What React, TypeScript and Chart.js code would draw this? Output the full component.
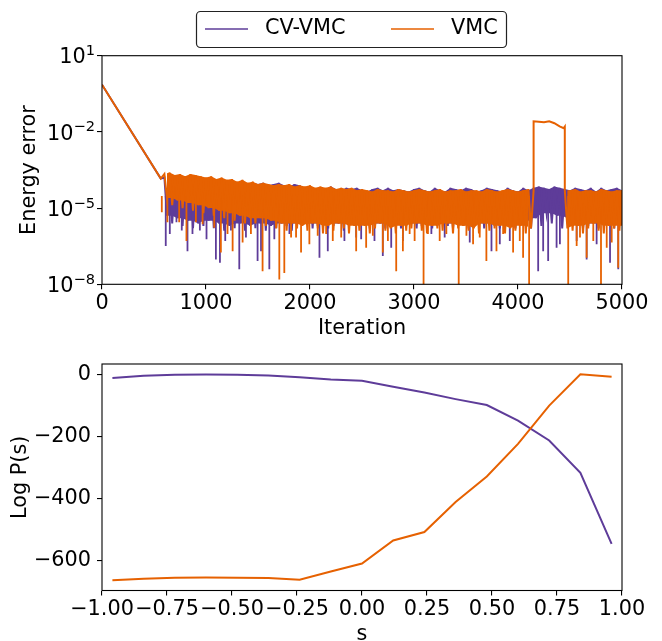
import React, { useEffect, useRef } from "react";
import { Chart, registerables } from "chart.js";

Chart.register(...registerables);

const FONT = "'DejaVu Sans', sans-serif";
const FS = 20.8;
const SUP_FS = 14.6;
const PURPLE = "#5e3c99";
const ORANGE = "#e66101";

// ---------- top panel data ----------
const seriesNames = ["CV-VMC", "VMC"];
const decayIter = [0, 565];
const cvDecay = [0.72, 1.45e-4];
const vmcDecay = [0.72, 1.45e-4];

// noisy phase: one window every 50 iterations starting at iteration 600;
// "hi" is the window maximum, "lo" the window minimum
const windowStart = 600;
const windowStep = 50;
const vmcHi = [
  2.2e-4, 2.5e-4, 2.0e-4, 2.2e-4, 1.8e-4, 2.2e-4, 2.0e-4,
  1.8e-4, 1.6e-4, 1.8e-4, 1.4e-4, 1.6e-4, 1.3e-4, 1.4e-4, 1.1e-4, 1.3e-4, 1.0e-4,
  1.1e-4, 8.9e-5, 1.0e-4, 8.9e-5, 7.9e-5, 8.9e-5, 7.9e-5, 8.9e-5, 7.1e-5, 7.9e-5,
  7.1e-5, 7.9e-5, 6.3e-5, 7.1e-5, 6.3e-5, 7.1e-5, 5.6e-5, 6.3e-5, 5.6e-5, 6.3e-5,
  5.0e-5, 5.6e-5, 5.0e-5, 4.5e-5, 5.6e-5, 5.0e-5, 5.0e-5, 4.5e-5, 5.6e-5, 5.0e-5,
  4.5e-5, 5.0e-5, 5.6e-5, 5.0e-5, 4.5e-5, 5.0e-5, 5.6e-5, 4.5e-5, 5.0e-5, 5.0e-5,
  5.6e-5, 4.5e-5, 5.0e-5, 5.0e-5, 4.5e-5, 5.6e-5, 5.0e-5, 4.5e-5, 5.0e-5, 5.6e-5,
  5.0e-5, 4.5e-5, 5.0e-5, 5.6e-5,
  null, null, null, null, null, null, 5.0e-5,
  5.0e-5, 5.6e-5, 4.5e-5, 5.0e-5, 5.0e-5, 4.5e-5, 5.6e-5, 5.0e-5, 4.5e-5, 5.0e-5, 5.0e-5,
];
const vmcLo = [
  2.5e-5, 1.3e-5, 2.0e-5, 1.0e-5, 1.6e-5, 7.9e-6, 1.3e-5,
  6.3e-6, 1.0e-5, 5.0e-6, 7.9e-6, 4.0e-6, 6.3e-6, 3.2e-6, 5.0e-6, 2.5e-6, 4.0e-6,
  2.5e-6, 4.0e-6, 2.0e-6, 3.2e-6, 1.6e-6, 2.5e-6, 1.3e-6, 2.5e-6, 1.6e-6, 2.0e-6,
  1.3e-6, 2.5e-6, 1.6e-6, 1.0e-6, 2.0e-6, 1.3e-6, 2.5e-6, 1.6e-6, 1.0e-6, 2.0e-6,
  1.3e-6, 2.0e-6, 1.0e-6, 1.6e-6, 2.5e-6, 1.3e-6, 1.6e-6, 1.0e-6, 2.0e-6, 1.3e-6,
  1.6e-6, 2.5e-6, 1.3e-6, 1.0e-6, 2.0e-6, 1.6e-6, 1.3e-6, 2.5e-6, 1.0e-6, 1.6e-6,
  2.0e-6, 1.3e-6, 1.6e-6, 1.0e-6, 2.5e-6, 1.3e-6, 1.6e-6, 2.0e-6, 1.0e-6, 1.6e-6,
  1.3e-6, 2.0e-6, 1.0e-6, 1.6e-6,
  null, null, null, null, null, null, 1.6e-6,
  1.3e-6, 2.0e-6, 1.0e-6, 1.6e-6, 2.5e-6, 1.3e-6, 1.0e-6, 2.0e-6, 1.6e-6, 1.3e-6, 2.0e-6,
];
const cvHi = [
  1.6e-4, 1.8e-4, 1.4e-4, 1.6e-4, 1.3e-4, 1.6e-4, 1.4e-4,
  1.3e-4, 1.1e-4, 1.3e-4, 1.0e-4, 1.1e-4, 1.0e-4, 1.1e-4, 8.9e-5, 1.0e-4, 8.9e-5,
  1.0e-4, 8.9e-5, 1.0e-4, 7.9e-5, 8.9e-5, 1.0e-4, 7.9e-5, 7.1e-5, 8.9e-5, 7.9e-5,
  6.3e-5, 7.1e-5, 5.6e-5, 6.3e-5, 5.6e-5, 7.1e-5, 5.6e-5, 5.0e-5, 6.3e-5, 5.6e-5,
  6.3e-5, 5.0e-5, 4.5e-5, 5.6e-5, 6.3e-5, 5.0e-5, 6.3e-5, 5.0e-5, 5.6e-5, 5.0e-5,
  4.5e-5, 5.6e-5, 6.3e-5, 5.0e-5, 4.5e-5, 6.3e-5, 5.0e-5, 4.5e-5, 6.3e-5, 5.6e-5,
  5.0e-5, 6.3e-5, 5.6e-5, 4.5e-5, 5.0e-5, 6.3e-5, 5.6e-5, 5.0e-5, 4.5e-5, 6.3e-5,
  5.0e-5, 4.5e-5, 6.3e-5, 5.0e-5,
  6.3e-5, 7.1e-5, 6.3e-5, 5.6e-5, 7.1e-5, 6.3e-5, 5.6e-5,
  5.0e-5, 6.3e-5, 5.6e-5, 5.0e-5, 6.3e-5, 4.5e-5, 6.3e-5, 5.0e-5, 5.6e-5, 6.3e-5, 5.0e-5,
];
const cvLo = [
  5.0e-6, 2.5e-6, 4.0e-6, 2.0e-6, 3.2e-6, 1.6e-6, 2.5e-6,
  2.0e-6, 3.2e-6, 1.6e-6, 2.5e-6, 1.3e-6, 2.0e-6, 1.6e-6, 2.5e-6, 1.3e-6, 2.0e-6,
  1.6e-6, 2.5e-6, 1.3e-6, 2.0e-6, 1.6e-6, 2.5e-6, 2.0e-6, 1.3e-6, 2.5e-6, 2.0e-6,
  2.5e-6, 1.6e-6, 2.0e-6, 2.5e-6, 1.6e-6, 2.0e-6, 2.5e-6, 1.3e-6, 2.0e-6, 2.5e-6,
  2.0e-6, 2.5e-6, 1.6e-6, 2.0e-6, 2.5e-6, 1.6e-6, 2.0e-6, 2.5e-6, 1.6e-6, 2.0e-6,
  2.5e-6, 1.6e-6, 2.0e-6, 2.5e-6, 1.6e-6, 2.0e-6, 2.5e-6, 2.0e-6, 1.6e-6, 2.5e-6,
  2.0e-6, 1.6e-6, 2.5e-6, 2.0e-6, 1.6e-6, 2.5e-6, 2.0e-6, 1.6e-6, 2.5e-6, 2.0e-6,
  1.6e-6, 2.5e-6, 2.0e-6, 1.6e-6,
  4.0e-6, 2.0e-6, 6.3e-6, 2.5e-6, 5.0e-6, 1.6e-6, 4.0e-6,
  2.0e-6, 2.5e-6, 1.6e-6, 2.0e-6, 2.5e-6, 1.6e-6, 2.0e-6, 2.5e-6, 1.6e-6, 2.0e-6, 2.5e-6,
];

// isolated deep dips (iteration, value)
const spikeBase = 3e-5;
const cvSpikeIter = [613, 652, 716, 767, 822, 870, 941, 1005, 1095, 1134, 1185, 1240, 1320, 1384,
  1496, 1529, 1609, 1657, 1802, 2091, 2171, 2331, 2444, 2492, 2620, 2700, 2781, 2893, 3167, 3295,
  3536, 3745, 3825, 3921, 4194, 4242, 4290, 4371, 4403, 4564, 4660, 4756, 4885, 4964];
const cvSpikeVal = [3.2e-7, 9.5e-7, 2.75e-6, 1.3e-6, 2.0e-7, 9.5e-7, 1.3e-6, 6.0e-7, 9.5e-8, 7.1e-8, 5.1e-7, 1.3e-6, 3.9e-8, 6.9e-7,
  8.3e-8, 2.0e-7, 3.9e-8, 6.0e-7, 9.5e-7, 1.1e-7, 2.0e-7, 5.1e-7, 6.9e-7, 6.0e-7, 5.1e-7, 1.3e-7, 2.75e-7, 5.1e-7, 9.5e-7, 6.9e-7,
  4.4e-7, 2.0e-7, 3.8e-7, 5.1e-7, 3.3e-8, 2.0e-7, 8.3e-8, 2.75e-7, 3.8e-7, 5.1e-7, 9.5e-8, 3.8e-7, 7.1e-8, 3.9e-8];
const vmcSpikeIter = [575, 629, 742, 812, 903, 967, 1079, 1143, 1207, 1256, 1352, 1432, 1544, 1705,
  1753, 1818, 1866, 1914, 1994, 2074, 2155, 2219, 2300, 2444, 2540, 2604, 2700, 2749, 2829, 2893,
  2958, 3006, 3092, 3134, 3247, 3311, 3430, 3504, 3568, 3632, 3696, 3793, 3857, 3953, 4017, 4049,
  4107, 4483, 4564, 4596, 4660, 4724, 4798, 4853, 4901, 4964];
const vmcSpikeVal = [6.8e-6, 2.75e-6, 2.75e-6, 5.1e-7, 2.75e-6, 2.3e-6, 1.7e-6, 1.8e-7, 9.5e-7, 2.0e-7, 4.4e-7, 9.5e-7, 3.3e-8, 1.55e-8,
  2.8e-8, 6.9e-7, 6.9e-7, 1.8e-7, 3.8e-7, 8.1e-7, 9.5e-7, 5.1e-7, 6.9e-7, 2.0e-7, 2.75e-7, 8.1e-7, 1.8e-7, 5.1e-7, 3.3e-8, 2.0e-7,
  9.5e-7, 5.1e-7, 5e-9, 9.5e-7, 5.1e-7, 9.5e-7, 5e-9, 8.1e-7, 3.8e-7, 6.9e-7, 8.3e-8, 2.0e-7, 9.5e-7, 1.8e-7, 5.1e-7, 1.1e-7,
  5e-9, 5e-9, 3.2e-7, 6.9e-7, 1.1e-7, 5.1e-7, 5e-9, 2.75e-7, 4.4e-7, 4.5e-8];

// VMC excursion around iterations 4150-4450
const vmcPlateauIter = [4150, 4150, 4200, 4250, 4300, 4350, 4400, 4440, 4450, 4450];
const vmcPlateauVal = [5.0e-5, 2.6e-2, 2.5e-2, 2.4e-2, 2.6e-2, 2.2e-2, 1.66e-2, 1.4e-2, 1.6e-2, 5.0e-5];

const iterTicks = [0, 1000, 2000, 3000, 4000, 5000];
const errTicks = [1e-8, 1e-5, 1e-2, 1e1];
const errTickBase = "10";
const errTickExp = ["\u22128", "\u22125", "\u22122", "1"];

// ---------- bottom panel data ----------
const sValues = [-0.96, -0.84, -0.72, -0.6, -0.48, -0.36, -0.24, -0.12, 0.0, 0.12, 0.24, 0.36, 0.48, 0.6, 0.72, 0.84, 0.96];
const cvLogP = [-12, -5, -2, -1, -2, -4, -10, -17, -21, -40, -59, -80, -99, -149, -213, -317, -546];
const vmcLogP = [-663, -658, -655, -654, -655, -656, -661, -635, -609, -535, -508, -411, -329, -224, -101, 0, -8];
const sTicks = [-1, -0.75, -0.5, -0.25, 0, 0.25, 0.5, 0.75, 1];
const logPTicks = [-600, -400, -200, 0];

const minus = (s: string) => s.replace("-", "\u2212");
const windowIter = (k: number) => windowStart + k * windowStep;

function pts(xs: number[], ys: (number | null)[]) {
  return xs.map((x, i) => ({ x, y: ys[i] }));
}

function noisyPoints(hi: (number | null)[], lo: (number | null)[]) {
  const out: any[] = [];
  hi.forEach((h, k) => {
    if (h == null || lo[k] == null) return;
    out.push({ x: windowIter(k), y: h }, { x: windowIter(k) + windowStep / 2, y: lo[k] });
  });
  return out;
}

function seriesLine(decay: number[], hi: (number | null)[], lo: (number | null)[], extra: any[]) {
  const all = [...pts(decayIter, decay), ...extra, ...noisyPoints(hi, lo)];
  return all.sort((a, b) => a.x - b.x);
}

// solid core of the noisy band: between the window maxima and the
// shallowest of the neighbouring window minima
function coreDatasets(hi: (number | null)[], lo: (number | null)[], color: string, order: number) {
  const out: any[] = [];
  const shallowLo = (k: number) => {
    const c = [lo[k - 1], lo[k], lo[k + 1]].filter((v) => v != null) as number[];
    return Math.max(...c);
  };
  let run: number[] = [];
  const flush = () => {
    if (run.length > 1) {
      out.push({
        data: run.map((k) => ({ x: windowIter(k) + windowStep / 2, y: shallowLo(k) })),
        borderWidth: 0, borderColor: "rgba(0,0,0,0)", fill: false, order, clip: 0,
      });
      out.push({
        data: run.map((k) => ({ x: windowIter(k), y: hi[k] })),
        borderWidth: 0, borderColor: "rgba(0,0,0,0)", backgroundColor: color, fill: "-1", order, clip: 0,
      });
    }
    run = [];
  };
  hi.forEach((h, k) => {
    if (h == null || lo[k] == null) flush();
    else run.push(k);
  });
  flush();
  return out;
}

function spikePoints(iters: number[], vals: number[]) {
  const out: any[] = [];
  iters.forEach((it, i) => {
    out.push({ x: it, y: spikeBase }, { x: it, y: vals[i] }, { x: it, y: null });
  });
  return out;
}

const framePlugin = {
  id: "frame",
  afterDatasetsDraw(chart: any) {
    const { ctx, chartArea: a } = chart;
    ctx.save();
    ctx.strokeStyle = "#000";
    ctx.lineWidth = 1.1;
    ctx.strokeRect(a.left, a.top, a.right - a.left, a.bottom - a.top);
    ctx.restore();
  },
};

const supTickPlugin = {
  id: "supTicks",
  afterDraw(chart: any) {
    const { ctx } = chart;
    const scale = chart.scales.y;
    const right = scale.right - 7;
    ctx.save();
    ctx.fillStyle = "#000";
    ctx.textAlign = "left";
    ctx.textBaseline = "alphabetic";
    errTicks.forEach((v, i) => {
      const y = scale.getPixelForValue(v);
      ctx.font = `${SUP_FS}px ${FONT}`;
      const supW = ctx.measureText(errTickExp[i]).width;
      ctx.font = `${FS}px ${FONT}`;
      const mainW = ctx.measureText(errTickBase).width;
      const x0 = right - supW - mainW;
      ctx.fillText(errTickBase, x0, y + 7.6);
      ctx.font = `${SUP_FS}px ${FONT}`;
      ctx.fillText(errTickExp[i], x0 + mainW, y - 0.6);
    });
    ctx.restore();
  },
};

const legendPlugin = {
  id: "boxLegend",
  afterDraw(chart: any) {
    const ctx = chart.ctx;
    ctx.save();
    const bx = 196.5, by = 11.5, bw = 310, bh = 36, r = 4;
    ctx.beginPath();
    ctx.moveTo(bx + r, by);
    ctx.arcTo(bx + bw, by, bx + bw, by + bh, r);
    ctx.arcTo(bx + bw, by + bh, bx, by + bh, r);
    ctx.arcTo(bx, by + bh, bx, by, r);
    ctx.arcTo(bx, by, bx + bw, by, r);
    ctx.closePath();
    ctx.fillStyle = "#fff";
    ctx.fill();
    ctx.strokeStyle = "#222";
    ctx.lineWidth = 1.2;
    ctx.stroke();
    const entries = [
      { label: seriesNames[0], color: PURPLE, x: 205 },
      { label: seriesNames[1], color: ORANGE, x: 391 },
    ];
    const y = 29;
    ctx.font = `${FS}px ${FONT}`;
    ctx.textBaseline = "middle";
    ctx.textAlign = "left";
    entries.forEach((e) => {
      ctx.strokeStyle = e.color;
      ctx.lineWidth = 1.5;
      ctx.beginPath();
      ctx.moveTo(e.x, y);
      ctx.lineTo(e.x + 43, y);
      ctx.stroke();
      ctx.fillStyle = "#000";
      ctx.fillText(e.label, e.x + 60, y);
    });
    ctx.restore();
  },
};

const tickFont = { family: FONT, size: FS };
const gridOpts = { display: true, drawOnChartArea: false, drawTicks: true, tickLength: 5, color: "#000", lineWidth: 1.1 };

function topConfig(): any {
  const plateau = pts(vmcPlateauIter, vmcPlateauVal);
  const datasets: any[] = [
    { label: seriesNames[0], data: seriesLine(cvDecay, cvHi, cvLo, []), borderColor: PURPLE, borderWidth: 2, order: 2, clip: 0 },
    { data: spikePoints(cvSpikeIter, cvSpikeVal), borderColor: PURPLE, borderWidth: 1.8, order: 2, clip: 0 },
    ...coreDatasets(cvHi, cvLo, PURPLE, 2),
    { label: seriesNames[1], data: seriesLine(vmcDecay, vmcHi, vmcLo, plateau), borderColor: ORANGE, borderWidth: 2, order: 1, clip: 0 },
    { data: spikePoints(vmcSpikeIter, vmcSpikeVal), borderColor: ORANGE, borderWidth: 1.8, order: 1, clip: 0 },
    ...coreDatasets(vmcHi, vmcLo, ORANGE, 1),
  ];

  return {
    type: "line",
    data: { datasets },
    options: {
      animation: false,
      responsive: false,
      devicePixelRatio: 1,
      events: [],
      layout: { padding: { left: 0, top: 55.7, right: 40, bottom: 0 } },
      elements: { point: { radius: 0 }, line: { tension: 0 } },
      plugins: { legend: { display: false }, tooltip: { enabled: false } },
      scales: {
        x: {
          type: "linear",
          min: 0,
          max: 5000,
          afterFit: (s: any) => { s.height = 345 - 284.3; },
          afterBuildTicks: (s: any) => { s.ticks = iterTicks.map((v) => ({ value: v })); },
          ticks: { font: tickFont, color: "#000", padding: 2, maxRotation: 0, autoSkip: false, callback: (v: any) => String(v) },
          grid: gridOpts,
          border: { display: false },
          title: { display: true, text: "Iteration", font: tickFont, color: "#000", padding: { top: 0, bottom: 4.4 } },
        },
        y: {
          type: "logarithmic",
          min: 1e-8,
          max: 10,
          afterFit: (s: any) => { s.width = 102; },
          afterBuildTicks: (s: any) => { s.ticks = errTicks.map((v) => ({ value: v })); },
          ticks: { display: false },
          grid: gridOpts,
          border: { display: false },
          title: { display: true, text: "Energy error", font: tickFont, color: "#000", padding: { top: 17.5, bottom: 0 } },
        },
      },
    },
    plugins: [framePlugin, supTickPlugin, legendPlugin],
  };
}

function bottomConfig(): any {
  return {
    type: "line",
    data: {
      datasets: [
        { label: seriesNames[0], data: pts(sValues, cvLogP), borderColor: PURPLE, borderWidth: 2, order: 2, clip: 0 },
        { label: seriesNames[1], data: pts(sValues, vmcLogP), borderColor: ORANGE, borderWidth: 2, order: 1, clip: 0 },
      ],
    },
    options: {
      animation: false,
      responsive: false,
      devicePixelRatio: 1,
      events: [],
      layout: { padding: { left: 0, top: 19, right: 40, bottom: 0 } },
      elements: { point: { radius: 0 }, line: { tension: 0 } },
      plugins: { legend: { display: false }, tooltip: { enabled: false } },
      scales: {
        x: {
          type: "linear",
          min: -1,
          max: 1,
          afterFit: (s: any) => { s.height = 310 - 245.5; },
          afterBuildTicks: (s: any) => { s.ticks = sTicks.map((v) => ({ value: v })); },
          ticks: { font: tickFont, color: "#000", padding: 2, maxRotation: 0, minRotation: 0, autoSkip: false, callback: (v: any) => minus(Number(v).toFixed(2)) },
          grid: gridOpts,
          border: { display: false },
          title: { display: true, text: "s", font: tickFont, color: "#000", padding: { top: 0, bottom: 8.3 } },
        },
        y: {
          type: "linear",
          min: -696,
          max: 33,
          afterFit: (s: any) => { s.width = 102; },
          afterBuildTicks: (s: any) => { s.ticks = logPTicks.map((v) => ({ value: v })); },
          ticks: { font: tickFont, color: "#000", padding: 6, autoSkip: false, callback: (v: any) => minus(String(v)) },
          grid: gridOpts,
          border: { display: false },
          title: { display: true, text: "Log P(s)", font: tickFont, color: "#000", padding: { top: 8.5, bottom: 0 } },
        },
      },
    },
    plugins: [framePlugin],
  };
}

export default function App() {
  const topRef = useRef<HTMLCanvasElement>(null);
  const botRef = useRef<HTMLCanvasElement>(null);
  useEffect(() => {
    const c1 = new Chart(topRef.current as HTMLCanvasElement, topConfig());
    const c2 = new Chart(botRef.current as HTMLCanvasElement, bottomConfig());
    return () => {
      c1.destroy();
      c2.destroy();
    };
  }, []);
  return (
    <div style={{ position: "fixed", left: 0, top: 0, width: 662, height: 641, overflow: "hidden", background: "#fff" }}>
      <canvas ref={topRef} width={662} height={345} style={{ position: "absolute", left: 0, top: 0 }} />
      <canvas ref={botRef} width={662} height={310} style={{ position: "absolute", left: 0, top: 345 }} />
    </div>
  );
}
